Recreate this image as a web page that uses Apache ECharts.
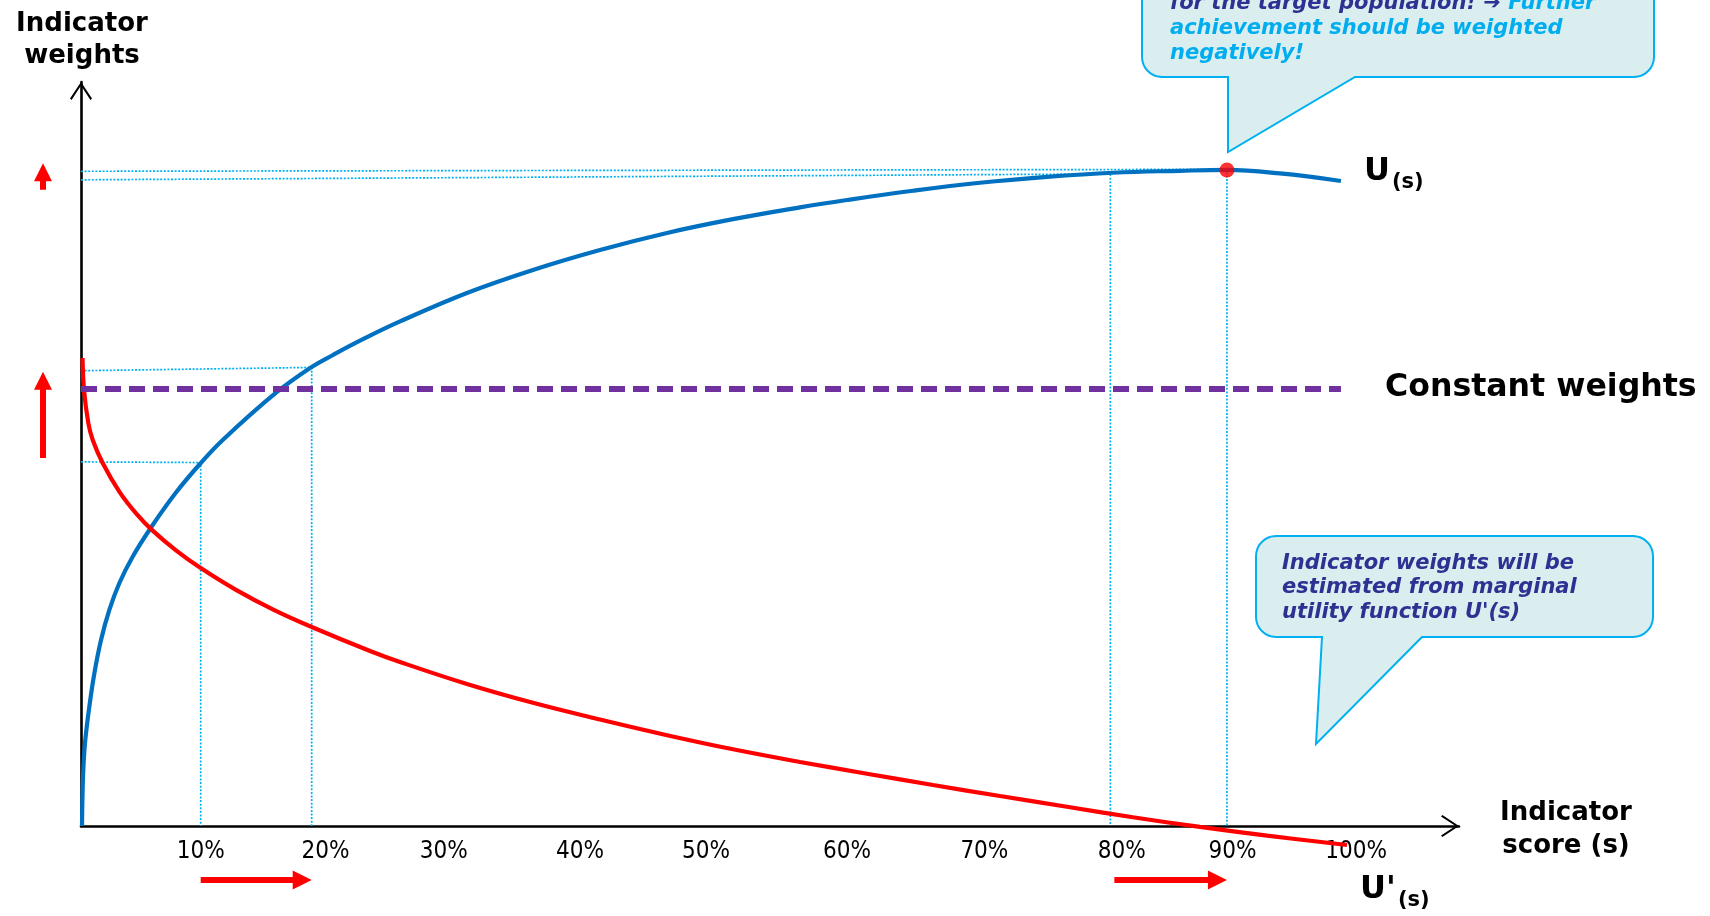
<!DOCTYPE html>
<html>
<head>
<meta charset="utf-8">
<script src="https://cdn.jsdelivr.net/npm/echarts@6/dist/echarts.min.js"></script>
<style>
html,body{margin:0;padding:0;background:#fff;}
#c{width:1710px;height:916px;}
</style>
</head>
<body>
<div id="c"></div>
<script>
// ---- data ----
// U(s): utility curve
const scoreU   = [0.08, 0.12, 0.2, 0.34, 0.66, 1.06, 1.59, 2.25, 3.04, 4.10, 5.69, 7.54, 9.44, 11.25, 15.53, 18.31, 20.0, 22.38, 25.32, 30.63, 35.87, 41.19, 46.51, 51.75, 57.06, 60.79, 66.03, 71.35, 76.67, 81.9, 87.22, 90.95, 95.16, 100];
const utilityU = [0, 4.73, 9.3, 13.11, 18.19, 23.28, 28.35, 32.93, 37.0, 41.05, 45.88, 50.84, 55.18, 58.84, 66.12, 69.97, 71.8, 74.2, 76.91, 81.25, 84.76, 87.8, 90.4, 92.5, 94.3, 95.42, 96.83, 98.05, 98.95, 99.58, 99.87, 100, 99.47, 98.32];
// U'(s): marginal utility curve
const scoreD    = [0.12, 0.24, 0.58, 0.93, 1.72, 3.04, 4.37, 5.69, 7.54, 9.44, 12.3, 15.3, 18.31, 22.94, 25.32, 30.63, 35.87, 41.19, 46.51, 51.75, 57.06, 62.38, 67.62, 72.94, 78.25, 83.49, 88.81, 94.13, 100.48];
const marginalD = [71.34, 66.46, 61.43, 58.84, 55.34, 50.98, 47.66, 45.02, 42.02, 39.4, 36.0, 32.95, 30.34, 26.68, 25.0, 21.65, 18.78, 16.23, 13.84, 11.69, 9.76, 7.97, 6.25, 4.57, 2.93, 1.34, -0.14, -1.46, -2.9];
// constant weights
const constScore  = [0, 100];
const constWeight = [66.6, 66.6];
// peak point
const peakScore = [90.95];
const peakValue = [100];
// guide (dotted) lines: score position, level at y-axis, level at the curve
const guideX      = [9.5, 18.31, 81.7, 90.95];
const guideYAxis  = [55.5, 69.4, 98.5, 99.8];
const guideYCurve = [55.4, 69.9, 99.4, 100.1];
// x tick labels and their positions
const xTickLabels = ['10%', '20%', '30%', '40%', '50%', '60%', '70%', '80%', '90%', '100%'];
const xTickPos    = [9.5, 19.4, 28.8, 39.6, 49.6, 60.8, 71.7, 82.6, 91.4, 101.2];

// ---- chart ----
const NAVY = '#2E3192', LBLUE = '#00AEEF', CBORDER = '#00B0F0', CFILL = '#DAEEF0';
const chevron = 'path://M11,0 L22,16.6 L20.4,18 L11,3.4 L1.6,18 L0,16.6 Z';
const zip = (a, b) => a.map((v, i) => [v, b[i]]);

const guideSeries = guideX.map((gx, i) => ({
  type: 'line',
  data: [[0, guideYAxis[i]], [gx, guideYCurve[i]], [gx, 0]],
  symbol: 'none', showSymbol: false, silent: true, z: 1, animation: false,
  lineStyle: { color: CBORDER, width: 1.7, type: [2, 1.6] }
}));

const option = {
  animation: false,
  backgroundColor: '#ffffff',
  textStyle: { fontFamily: 'DejaVu Sans' },
  grid: { left: 81, right: 251, top: 82, bottom: 90, containLabel: false, outerBoundsMode: 'none' },
  xAxis: {
    type: 'value', min: 0, max: 109.37,
    axisLine: { show: true, onZero: false, lineStyle: { color: '#000', width: 2.6 },
      symbol: ['none', chevron], symbolSize: [22, 18], symbolOffset: [0, -9] },
    axisTick: { show: false },
    splitLine: { show: false },
    axisLabel: {
      show: true,
      customValues: xTickPos,
      formatter: function (v) {
        let best = 0, d = Infinity;
        xTickPos.forEach((p, i) => { if (Math.abs(p - v) < d) { d = Math.abs(p - v); best = i; } });
        return xTickLabels[best];
      },
      color: '#000', fontSize: 24, fontFamily: "'DejaVu Sans Condensed', 'DejaVu Sans'", margin: 14,
      hideOverlap: false, showMinLabel: true, showMaxLabel: true
    }
  },
  yAxis: {
    type: 'value', min: 0, max: 113.41,
    axisLine: { show: true, onZero: false, lineStyle: { color: '#000', width: 2.6 },
      symbol: ['none', chevron], symbolSize: [22, 18], symbolOffset: [0, -9] },
    axisTick: { show: false },
    axisLabel: { show: false },
    splitLine: { show: false }
  },
  series: guideSeries.concat([
    {
      name: 'U(s)', type: 'line', data: zip(scoreU, utilityU),
      smooth: 0.4, symbol: 'none', showSymbol: false, clip: false, z: 3,
      lineStyle: { color: '#0070C0', width: 4.2 }
    },
    {
      name: "U'(s)", type: 'line', data: zip(scoreD, marginalD),
      smooth: 0.4, symbol: 'none', showSymbol: false, clip: false, z: 3,
      lineStyle: { color: '#FF0000', width: 4.2 }
    },
    {
      name: 'Constant weights', type: 'line', data: zip(constScore, constWeight),
      symbol: 'none', showSymbol: false, clip: false, z: 4,
      lineStyle: { color: '#7030A0', width: 6, type: [16, 8] }
    },
    {
      name: 'peak', type: 'scatter', data: zip(peakScore, peakValue),
      symbol: 'circle', symbolSize: 15, z: 6, clip: false,
      itemStyle: { color: '#FF0000' }
    }
  ])
};

const chart = echarts.init(document.getElementById('c'), null, { renderer: 'canvas', width: 1710, height: 916 });
chart.setOption(option);

const px = (x, y) => chart.convertToPixel({ gridIndex: 0 }, [x, y]);

function upArrow(x, tipY, bottomY) {
  return { type: 'polygon', silent: true, z: 10,
    shape: { points: [[x, tipY], [x + 9, tipY + 18], [x + 3, tipY + 18], [x + 3, bottomY], [x - 3, bottomY], [x - 3, tipY + 18], [x - 9, tipY + 18]] },
    style: { fill: '#FF0000' } };
}
function rightArrow(x0, x1, y) {
  return { type: 'polygon', silent: true, z: 10,
    shape: { points: [[x1, y], [x1 - 19, y - 9.5], [x1 - 19, y - 3], [x0, y - 3], [x0, y + 3], [x1 - 19, y + 3], [x1 - 19, y + 9.5]] },
    style: { fill: '#FF0000' } };
}
function arcPts(cx, cy, r, a0, a1) {
  const pts = [];
  for (let k = 0; k <= 8; k++) {
    const a = (a0 + (a1 - a0) * k / 8) * Math.PI / 180;
    pts.push([cx + r * Math.cos(a), cy + r * Math.sin(a)]);
  }
  return pts;
}
function callout(x0, y0, x1, y1, r, bx0, bx1, tipX, tipY) {
  let pts = [];
  pts = pts.concat(arcPts(x1 - r, y0 + r, r, -90, 0));
  pts = pts.concat(arcPts(x1 - r, y1 - r, r, 0, 90));
  pts.push([bx1, y1], [tipX, tipY], [bx0, y1]);
  pts = pts.concat(arcPts(x0 + r, y1 - r, r, 90, 180));
  pts = pts.concat(arcPts(x0 + r, y0 + r, r, 180, 270));
  return { type: 'polygon', silent: true, z: 20, shape: { points: pts },
    style: { fill: CFILL, stroke: CBORDER, lineWidth: 2 } };
}

const gx = guideX.map(v => px(v, 0)[0]);
const gy = guideYAxis.map(v => px(0, v)[1]);
const arrowY = px(0, 0)[1] + 54;

const tokBase = { fontFamily: 'DejaVu Sans', fontWeight: 'bold', fontStyle: 'italic', fontSize: 21, lineHeight: 25 };

chart.setOption({
  graphic: [
    // arrows
    rightArrow(gx[0], gx[1], arrowY),
    rightArrow(gx[2] + 4, gx[3], arrowY),
    upArrow(43, gy[1] + 1, gy[0] - 4),
    upArrow(43, gy[3] - 8, gy[2] + 10),
    // callouts
    callout(1142, -120, 1654, 77, 20, 1228, 1355, 1228, 152),
    callout(1256, 536, 1653, 637, 20, 1322, 1422, 1316, 744),
    { type: 'text', silent: true, z: 21, x: 1170, y: 29,
      style: {
        text: '{n|for the target population! ➔ }{l|Further}\n{l|achievement should be weighted}\n{l|negatively!}',
        align: 'left', verticalAlign: 'middle',
        rich: { n: Object.assign({ fill: NAVY, color: NAVY }, tokBase), l: Object.assign({ fill: LBLUE, color: LBLUE }, tokBase) }
      } },
    { type: 'text', silent: true, z: 21, x: 1282, y: 588,
      style: {
        text: "Indicator weights will be\nestimated from marginal\nutility function U'(s)",
        align: 'left', verticalAlign: 'middle', fill: NAVY,
        font: 'italic bold 21px "DejaVu Sans"', lineHeight: 24.5
      } },
    // axis titles
    { type: 'text', silent: true, x: 82, y: 40,
      style: { text: 'Indicator\nweights', align: 'center', verticalAlign: 'middle', fill: '#000',
        font: 'bold 26px "DejaVu Sans"', lineHeight: 32 } },
    { type: 'text', silent: true, x: 1566, y: 830,
      style: { text: 'Indicator\nscore (s)', align: 'center', verticalAlign: 'middle', fill: '#000',
        font: 'bold 26px "DejaVu Sans"', lineHeight: 33 } },
    // curve labels
    { type: 'text', silent: true, x: 1364, y: 172,
      style: { text: 'U', align: 'left', verticalAlign: 'middle', fill: '#000', font: 'bold 32px "DejaVu Sans"' } },
    { type: 'text', silent: true, x: 1392, y: 183,
      style: { text: '(s)', align: 'left', verticalAlign: 'middle', fill: '#000', font: 'bold 21px "DejaVu Sans"' } },
    { type: 'text', silent: true, x: 1360, y: 890,
      style: { text: "U'", align: 'left', verticalAlign: 'middle', fill: '#000', font: 'bold 32px "DejaVu Sans"' } },
    { type: 'text', silent: true, x: 1398, y: 901,
      style: { text: '(s)', align: 'left', verticalAlign: 'middle', fill: '#000', font: 'bold 21px "DejaVu Sans"' } },
    { type: 'text', silent: true, x: 1385, y: 388,
      style: { text: 'Constant weights', align: 'left', verticalAlign: 'middle', fill: '#000', font: 'bold 31.6px "DejaVu Sans"' } }
  ]
});
</script>
</body>
</html>
